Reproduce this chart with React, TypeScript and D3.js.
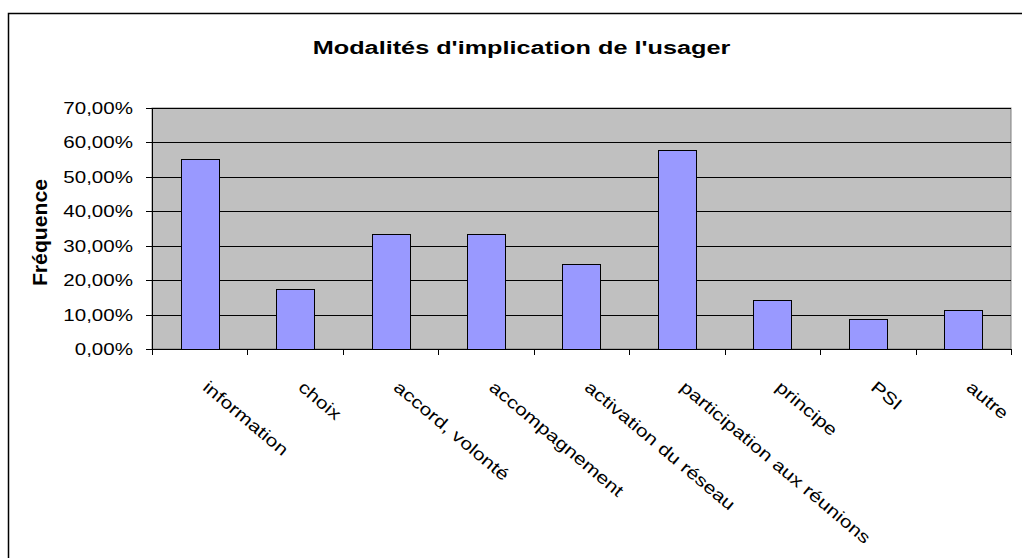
import React from "react";
import * as d3 from "d3";

const title = "Modalités d'implication de l'usager";
const yTitle = "Fréquence";
const categories = [
  "information",
  "choix",
  "accord, volonté",
  "accompagnement",
  "activation du réseau",
  "participation aux réunions",
  "principe",
  "PSI",
  "autre",
];
const values = [0.551, 0.173, 0.333, 0.333, 0.246, 0.578, 0.143, 0.086, 0.112];
const yTicks = [0, 0.1, 0.2, 0.3, 0.4, 0.5, 0.6, 0.7];

const W = 1022;
const H = 558;
const plot = { left: 152, right: 1011, top: 108, bottom: 349 };
const FONT = "'Liberation Sans', Arial, sans-serif";

export default function App() {
  const x = d3
    .scaleBand<string>()
    .domain(categories)
    .range([plot.left, plot.right])
    .paddingInner(0.6)
    .paddingOuter(0.3);
  const y = d3.scaleLinear().domain([0, 0.7]).range([plot.bottom, plot.top]);
  const fmt = (v: number) => (v * 100).toFixed(2).replace(".", ",") + "%";
  const step = x.step();
  const bw = x.bandwidth();

  return (
    <svg
      width={W}
      height={H}
      style={{ position: "absolute", left: 0, top: 0, background: "#fff" }}
      fontFamily={FONT}
    >
      <rect x={8.5} y={13.5} width={W + 20} height={H + 20} fill="#fff" stroke="#000" strokeWidth={1.5} />
      <text
        transform={`translate(${(plot.left + plot.right) / 2 - 60},54) scale(1.33,1)`}
        textAnchor="middle"
        fontSize={19}
        fontWeight="bold"
      >
        {title}
      </text>
      <rect
        x={plot.left}
        y={plot.top}
        width={plot.right - plot.left}
        height={plot.bottom - plot.top}
        fill="#C0C0C0"
        stroke="#808080"
        strokeWidth={1}
      />
      {yTicks.map((t) => (
        <g key={t}>
          <line x1={plot.left} x2={plot.right} y1={Math.round(y(t)) + 0.5} y2={Math.round(y(t)) + 0.5} stroke="#000" strokeWidth={1} />
          <line x1={plot.left - 6} x2={plot.left} y1={Math.round(y(t)) + 0.5} y2={Math.round(y(t)) + 0.5} stroke="#000" />
          <text
            transform={`translate(${plot.left - 19},${y(t) + 6}) scale(1.21,1)`}
            textAnchor="end"
            fontSize={17}
          >
            {fmt(t)}
          </text>
        </g>
      ))}
      <line x1={plot.left + 0.5} x2={plot.left + 0.5} y1={plot.top} y2={plot.bottom} stroke="#000" />
      {values.map((v, i) => (
        <rect
          key={categories[i]}
          x={Math.round(x(categories[i])!) + 0.5}
          y={Math.round(y(v)) + 0.5}
          width={Math.round(bw)}
          height={Math.round(y(0)) - Math.round(y(v))}
          fill="#9999FF"
          stroke="#000"
          strokeWidth={1}
        />
      ))}
      <line x1={plot.left} x2={plot.right} y1={Math.round(y(0)) + 0.5} y2={Math.round(y(0)) + 0.5} stroke="#000" />
      {d3.range(categories.length + 1).map((k) => {
        const tx = Math.round(plot.left + k * step) + 0.5;
        return <line key={k} x1={tx} x2={tx} y1={plot.bottom} y2={plot.bottom + 6} stroke="#000" />;
      })}
      {categories.map((c) => {
        const cx = x(c)! + bw / 2;
        return (
          <text
            key={c}
            transform={`translate(${cx + 2},389) rotate(40) scale(1.25,1)`}
            fontSize={17}
          >
            {c}
          </text>
        );
      })}
      <text
        transform={`translate(47,${(plot.top + plot.bottom) / 2 + 4}) rotate(-90) scale(1.06,1)`}
        textAnchor="middle"
        fontSize={20}
        fontWeight="bold"
      >
        {yTitle}
      </text>
    </svg>
  );
}
